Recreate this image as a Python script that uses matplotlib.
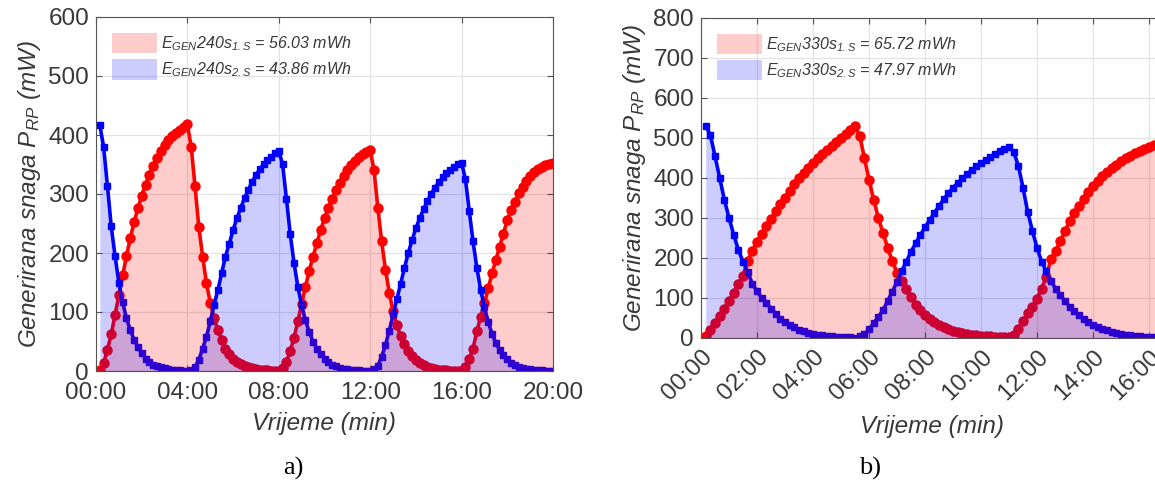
import matplotlib
matplotlib.use("Agg")
import matplotlib.pyplot as plt
import matplotlib.patches as mpatches
import numpy as np

# fonts: MATLAB-like sans, italic math text
plt.rcParams['font.family'] = 'Liberation Sans'
plt.rcParams['mathtext.fontset'] = 'custom'
plt.rcParams['mathtext.it'] = 'Liberation Sans:italic'
plt.rcParams['mathtext.rm'] = 'Liberation Sans:italic'
plt.rcParams['mathtext.default'] = 'it'

# ---- data a) 240 s switching, sample every 10 s (minutes on x)
time_a = np.arange(10, 1201, 10) / 60.0
red_a = [2, 13, 36, 62, 95, 128, 162, 195, 225, 252, 276, 297, 316, 333, 348, 361, 373, 383, 391, 398, 404, 409, 414, 418,
         380, 313, 244, 194, 149, 116, 89, 70, 53, 38, 28, 21, 16, 12, 8, 6, 4.5, 3, 2, 1.5, 1, 0.5, 0.5, 0.5,
         4.5, 16, 34, 56, 84, 114, 143, 170, 194, 217, 239, 259, 276, 292, 306, 319, 330, 340, 349, 356, 362, 367, 371, 375,
         340, 277, 220, 172, 133, 101, 78, 59, 45, 34, 25, 18, 13, 9.5, 7, 5, 3.5, 2.5, 1.8, 1.2, 0.8, 0.6, 0.4, 0.3,
         7, 21, 38, 67, 92, 115, 140, 166, 188, 211, 233, 256, 273, 287, 301, 312, 322, 331, 337, 342, 346, 349, 351, 353]
blue_a = [417, 380, 314, 245, 195, 150, 117, 89, 70, 53, 40, 30, 21, 16, 11, 8, 6, 4.5, 3, 2, 1.5, 1, 0.7, 0.5,
          2, 7, 19, 38, 58, 84, 112, 137, 166, 194, 216, 239, 259, 276, 293, 307, 321, 332, 342, 350, 358, 363, 369, 373,
          350, 292, 232, 183, 143, 112, 86, 66, 50, 38, 28, 21, 15, 11, 8, 5.5, 4, 2.8, 2, 1.4, 1, 0.7, 0.5, 0.4,
          3, 9, 24, 44, 68, 96, 122, 148, 175, 200, 222, 242, 259, 274, 288, 300, 311, 320, 328, 335, 341, 346, 350, 353,
          325, 272, 220, 175, 138, 108, 83, 63, 48, 36, 27, 20, 14, 10, 7.5, 5.5, 4, 2.8, 2, 1.5, 1.1, 0.8, 0.6, 0.4]

# ---- data b) 330 s switching
time_b = np.arange(10, 991, 10) / 60.0
red_b = [5, 20, 37, 55, 72, 92, 113, 135, 155, 192, 217, 240, 260, 280, 298, 316, 333,
         350, 367, 383, 398, 411, 424, 437, 449, 460, 470, 480, 489, 498, 508, 518, 530,
         505, 450, 395, 345, 300, 262, 225, 192, 163, 143, 121, 101, 83, 69, 58, 48, 39,
         32, 27, 22, 18, 14, 11.5, 9.5, 8, 6.5, 5, 4, 3.2, 2.5, 1.8, 1.2, 0.8,
         7, 23, 42, 61, 78, 98, 123, 153, 198, 217, 242, 267, 292, 312, 329, 346, 365,
         379, 392, 403, 413, 423, 432, 441, 448, 455, 461, 466, 471, 477, 481, 485, 488]
blue_b = [530, 507, 454, 400, 345, 300, 258, 220, 190, 165, 135, 116, 100, 88, 73, 60, 47,
          39, 32, 26, 20.5, 16.5, 12.5, 10, 7.5, 6, 4.5, 3.3, 2.5, 1.8, 1.2, 0.8, 0.5,
          4, 9, 21, 36, 52, 69, 92, 115, 140, 167, 190, 215, 236, 257, 276, 294, 312,
          329, 346, 361, 375, 387, 398, 409, 419, 428, 437, 444, 452, 460, 467, 472, 477,
          465, 430, 375, 315, 268, 225, 190, 166, 142, 122, 106, 91, 78, 67, 56, 47, 39,
          33, 27.5, 22.5, 18.5, 15, 12, 9.5, 7.5, 6, 5, 4, 3, 2, 1.3, 0.9, 0.6]

legend_a = [r'$E_{GEN}240s_{1.S}$ = 56.03 mWh', r'$E_{GEN}240s_{2.S}$ = 43.86 mWh']
legend_b = [r'$E_{GEN}330s_{1.S}$ = 65.72 mWh', r'$E_{GEN}330s_{2.S}$ = 47.97 mWh']

W, H = 1155, 491
fig = plt.figure(figsize=(W / 100, H / 100), dpi=100)
ax_a = fig.add_axes([96 / W, 1 - 371 / H, 457 / W, 354 / H])
ax_b = fig.add_axes([701 / W, 1 - 337.7 / H, 462 / W, 320 / H])

text_col = '#383838'


def draw(ax, t, red, blue, labels, xmax, ymax, xstep):
    # lines first, then translucent fills on top (tints the lines underneath)
    ax.plot(t, red, color='red', lw=2.6, marker='o', ms=6.5, zorder=2)
    ax.plot(t, blue, color='blue', lw=2.6, marker='s', ms=5, zorder=2)
    ax.fill_between(t, red, 0, color='red', alpha=0.2, lw=0, zorder=3)
    ax.fill_between(t, blue, 0, color='blue', alpha=0.2, lw=0, zorder=3)
    ax.set_xlim(0, xmax)
    ax.set_ylim(0, ymax)
    ticks = np.arange(0, xmax + 0.01, xstep)
    ax.set_xticks(ticks)
    ax.set_xticklabels(['%02d:00' % v for v in ticks])
    ax.set_yticks(np.arange(0, ymax + 1, 100))
    ax.grid(True, color='#e3e3e3', lw=0.9)
    ax.set_axisbelow(True)
    ax.tick_params(direction='in', length=4, width=0.8, colors='#555555', labelcolor=text_col,
                   labelsize=17.5, top=True, right=True)
    ax.tick_params(axis='x', pad=8)
    ax.tick_params(axis='y', pad=5)
    for s in ax.spines.values():
        s.set_color('#555555')
        s.set_linewidth(0.8)
    ax.set_xlabel('Vrijeme (min)', fontsize=17.5, style='italic', color=text_col)
    ax.set_ylabel('Generirana snaga $P_{RP}$ (mW)', fontsize=17.5, style='italic', color=text_col,
                  labelpad=4)
    handles = [mpatches.Patch(facecolor='red', alpha=0.2, lw=0),
               mpatches.Patch(facecolor='blue', alpha=0.2, lw=0)]
    ax.legend(handles, labels, loc='upper left', frameon=False,
              prop={'style': 'italic', 'size': 11.5}, handlelength=2.8, handleheight=1.6,
              handletextpad=0.25, labelspacing=0.35, borderaxespad=0.6, labelcolor=text_col)


draw(ax_a, time_a, red_a, blue_a, legend_a, 20, 600, 4)
draw(ax_b, time_b, red_b, blue_b, legend_b, 16.5, 800, 2)

ax_a.xaxis.labelpad = 6
plt.setp(ax_b.get_xticklabels(), rotation=45, ha='right', va='top', rotation_mode='anchor')
ax_b.tick_params(axis='x', pad=6)
ax_b.xaxis.labelpad = 7

fig.text(293 / W, 1 - 468 / H, 'a)', family='Liberation Serif', fontsize=19, ha='center', va='center')
fig.text(870 / W, 1 - 468 / H, 'b)', family='Liberation Serif', fontsize=19, ha='center', va='center')

fig.savefig('out.png', dpi=100)
